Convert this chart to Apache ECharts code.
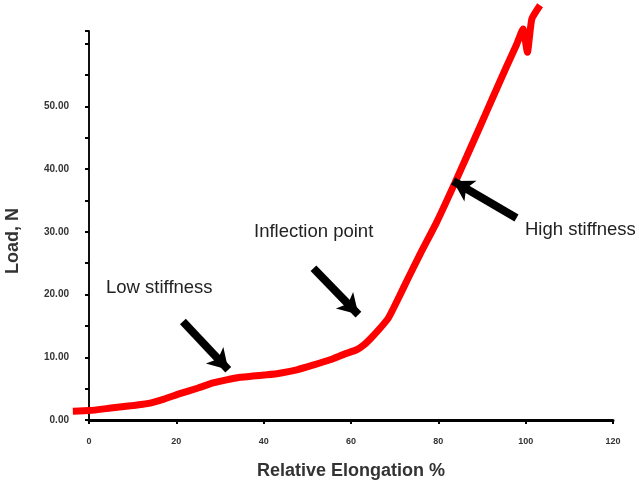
<!DOCTYPE html>
<html>
<head>
<meta charset="utf-8">
<script src="https://cdn.jsdelivr.net/npm/echarts@6/dist/echarts.min.js"></script>
<style>html,body{margin:0;padding:0;background:#fff}#c{width:639px;height:489px}</style>
</head>
<body>
<div id="c"></div>
<script>
// Relative elongation (%) and load (N)
var elongation = [-3.7, 0, 5, 10, 13.3, 17, 20.8, 25, 28.4, 31.5, 34.6, 37.5, 40.7, 44, 47.6, 51.5, 55.2, 58.5, 61.3, 63, 64.5, 66.5, 68.6, 71, 72.8, 75.8, 79.6, 83.8, 86.5, 89.5, 92.6, 95.6, 97.9, 99.4, 100.4, 101.4, 103.3];
var load = [1.4, 1.5, 1.9, 2.3, 2.6, 3.3, 4.2, 5.1, 5.9, 6.4, 6.8, 7.0, 7.2, 7.5, 8.0, 8.8, 9.6, 10.5, 11.2, 12.0, 13.0, 14.5, 16.3, 19.6, 22.2, 26.4, 31.5, 37.8, 42.0, 46.7, 51.6, 56.3, 59.8, 62.3, 58.6, 63.9, 66.1];
var xTicks = [0, 20, 40, 60, 80, 100, 120];
var yTickLabels = ['0.00', '10.00', '20.00', '30.00', '40.00', '50.00'];
// Annotation arrows: [tailX, tailY, headX, headY] in data units
var arrowLow = [21.5, 15.7, 31.9, 8.0];
var arrowInflection = [51.4, 24.2, 61.7, 16.8];
var arrowHigh = [97.9, 32.2, 83.4, 38.1];

var pts = elongation.map(function (x, i) { return [x, load[i]]; });
function arrow(a) { return [{ coord: [a[0], a[1]] }, { coord: [a[2], a[3]] }]; }

var xMin = xTicks[0], xMax = xTicks[xTicks.length - 1];
var plotLeft = 89, plotRight = 26;
// hidden helper grid: same scale, extended 20 units to the left so the curve may start before 0
var pxPerUnit = (639 - plotLeft - plotRight) / (xMax - xMin);

var chart = echarts.init(document.getElementById('c'));
chart.setOption({
  animation: false,
  grid: [
    { left: plotLeft, right: plotRight, top: 31, bottom: 69 },
    { left: plotLeft - 20 * pxPerUnit, right: plotRight, top: 31, bottom: 69 }
  ],
  xAxis: [{
    type: 'value', min: xMin, max: xMax, interval: 20, gridIndex: 0,
    axisLine: { lineStyle: { color: '#000', width: 3 } },
    axisTick: { length: 4, lineStyle: { color: '#000', width: 2 } },
    axisLabel: { fontSize: 9, fontWeight: 'bold', color: '#333', margin: 17, fontFamily: 'Liberation Sans, Arial' },
    splitLine: { show: false },
    name: 'Relative Elongation %', nameLocation: 'middle', nameGap: 42,
    nameTextStyle: { fontSize: 18, fontWeight: 'bold', color: '#333', fontFamily: 'Liberation Sans, Arial' }
  }, {
    type: 'value', min: xMin - 20, max: xMax, interval: 20, gridIndex: 1, show: false
  }],
  yAxis: [{
    type: 'value', min: 0, max: 62, interval: 5, gridIndex: 0,
    axisLine: { show: true, lineStyle: { color: '#111', width: 2 } },
    axisTick: { show: true, length: 4, lineStyle: { color: '#000', width: 2 } },
    axisLabel: {
      fontSize: 10, fontWeight: 'bold', color: '#333', margin: 20, fontFamily: 'Liberation Sans, Arial',
      formatter: function (v) { return (v % 10 === 0 && v / 10 < yTickLabels.length) ? yTickLabels[v / 10] : ''; }
    },
    splitLine: { show: false }
  }, {
    type: 'value', min: 0, max: 62, interval: 5, gridIndex: 1, show: false
  }],
  graphic: [
    { type: 'text', left: 4, top: 208, rotation: Math.PI / 2, style: { text: 'Load, N', font: 'bold 18px "Liberation Sans", Arial', fill: '#333' } },
    { type: 'text', x: 106, y: 288, style: { text: 'Low stiffness', font: '18.5px "Liberation Sans", Arial', fill: '#222', verticalAlign: 'middle' } },
    { type: 'text', x: 254, y: 232, style: { text: 'Inflection point', font: '18.5px "Liberation Sans", Arial', fill: '#222', verticalAlign: 'middle' } },
    { type: 'text', x: 525, y: 230, style: { text: 'High stiffness', font: '18.5px "Liberation Sans", Arial', fill: '#222', verticalAlign: 'middle' } }
  ],
  series: [{
    type: 'line',
    xAxisIndex: 1, yAxisIndex: 1,
    data: pts,
    clip: false,
    showSymbol: false,
    smooth: 0.15,
    lineStyle: { color: '#ff0000', width: 7 },
    markLine: {
      silent: true,
      symbol: ['none', 'arrow'],
      symbolSize: [18, 20],
      label: { show: false },
      lineStyle: { color: '#000', width: 8, type: 'solid' },
      data: [arrow(arrowLow), arrow(arrowInflection), arrow(arrowHigh)]
    }
  }]
});
</script>
</body>
</html>
